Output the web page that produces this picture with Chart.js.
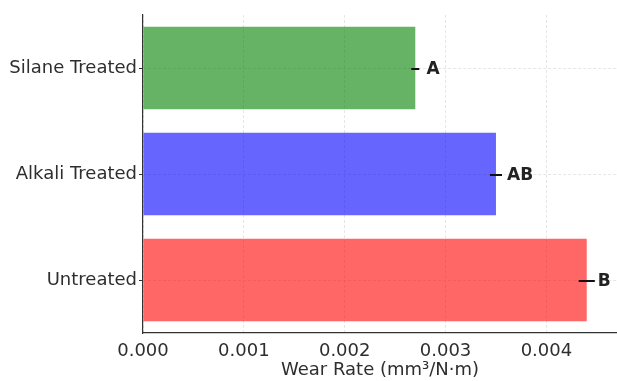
<!DOCTYPE html>
<html>
<head>
<meta charset="utf-8">
<script src="https://cdn.jsdelivr.net/npm/chart.js@4"></script>
<style>
  html, body { margin: 0; padding: 0; background: #fff; }
  #wrap { width: 617px; height: 381px; }
</style>
</head>
<body>
<div id="wrap"><canvas id="graficoDesgaste" width="617" height="381"></canvas></div>
<script>
  // data, listed top to bottom as drawn
  const categorias = ['Silane Treated', 'Alkali Treated', 'Untreated'];
  const taxaDesgaste = [0.0027, 0.0035, 0.0044];
  const erros = [0.00004, 0.00006, 0.00008];
  const letras = ['A', 'AB', 'B'];
  const cores = ['rgba(0, 128, 0, 0.6)', 'rgba(0, 0, 255, 0.6)', 'rgba(255, 0, 0, 0.6)'];
  const ticksX = [0, 0.001, 0.002, 0.003, 0.004];

  const fonte = "'DejaVu Sans', sans-serif";
  const corTexto = '#2e2e2e';

  const errosELetras = {
    id: 'errosELetras',
    afterDatasetsDraw(chart) {
      const ctx = chart.ctx;
      const x = chart.scales.x;
      const y = chart.scales.y;
      ctx.save();
      taxaDesgaste.forEach((v, i) => {
        const py = y.getPixelForValue(i) + 1;
        ctx.strokeStyle = '#111';
        ctx.lineWidth = 2;
        ctx.beginPath();
        ctx.moveTo(x.getPixelForValue(v - erros[i]), py);
        ctx.lineTo(x.getPixelForValue(v + erros[i]), py);
        ctx.stroke();
        ctx.fillStyle = '#222';
        ctx.font = 'bold 17px ' + fonte;
        ctx.textAlign = 'left';
        ctx.textBaseline = 'middle';
        ctx.fillText(letras[i], x.getPixelForValue(v + 0.00011), py + 1);
      });
      ctx.restore();
    }
  };

  const ctx = document.getElementById('graficoDesgaste').getContext('2d');
  new Chart(ctx, {
    type: 'bar',
    data: {
      labels: categorias,
      datasets: [{
        data: taxaDesgaste,
        backgroundColor: cores,
        borderWidth: 0,
        barPercentage: 0.78,
        categoryPercentage: 1
      }]
    },
    options: {
      indexAxis: 'y',
      responsive: false,
      animation: false,
      layout: { padding: { top: 15, right: 0, left: 0, bottom: 0 } },
      plugins: {
        legend: { display: false },
        tooltip: { enabled: false }
      },
      scales: {
        x: {
          type: 'linear',
          min: 0,
          max: 0.0047,
          afterBuildTicks: (scale) => { scale.ticks = ticksX.map(v => ({ value: v })); },
          afterFit: (scale) => { scale.height = 48; },
          ticks: {
            includeBounds: false,
            padding: 8,
            color: corTexto,
            font: { family: fonte, size: 18 },
            callback: (v) => Number(v).toFixed(3)
          },
          grid: {
            color: '#e6e6e6',
            lineWidth: 1,
            drawTicks: false
          },
          border: { display: true, color: '#333', width: 1.2, dash: [3, 2] },
          title: {
            display: true,
            text: 'Wear Rate (mm³/N·m)',
            color: corTexto,
            font: { family: fonte, size: 18 },
            padding: { top: 0, bottom: 0 }
          }
        },
        y: {
          type: 'category',
          offset: true,
          afterFit: (scale) => { scale.width = 143; },
          ticks: {
            padding: 2,
            color: corTexto,
            font: { family: fonte, size: 18 }
          },
          grid: {
            offset: false,
            color: '#e6e6e6',
            lineWidth: 1,
            tickLength: 4,
            tickColor: '#333'
          },
          border: { display: true, color: '#333', width: 1.2, dash: [3, 2] }
        }
      }
    },
    plugins: [errosELetras]
  });
</script>
</body>
</html>
